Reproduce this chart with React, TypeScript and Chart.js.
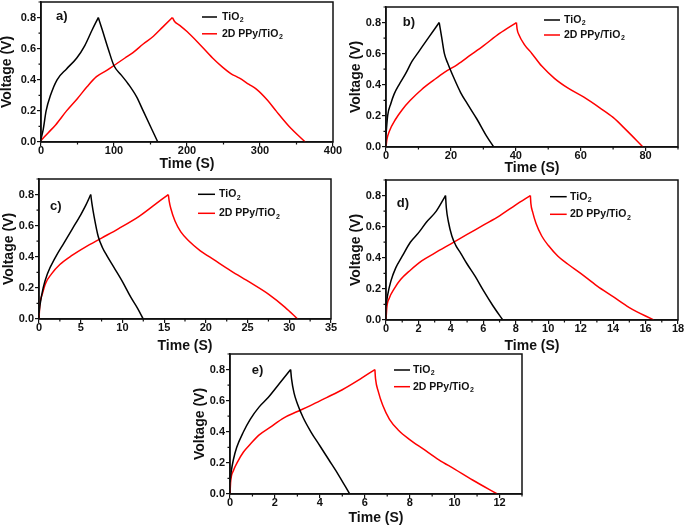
import React, { useEffect, useRef } from 'react';
import { Chart, registerables } from 'chart.js';
Chart.register(...registerables);

const FONT = "'Liberation Sans', Arial, Helvetica, sans-serif";

// ---------- data (time in s, voltage in V) ----------
// a)
const A_TIO2_T = [0, 3, 7, 13, 22, 35, 49, 60, 70, 78.5, 84, 92, 100, 110, 120, 131, 140, 150, 160];
const A_TIO2_V = [0.02, 0.08, 0.2, 0.3, 0.4, 0.47, 0.54, 0.62, 0.72, 0.8, 0.72, 0.6, 0.49, 0.43, 0.37, 0.29, 0.2, 0.1, 0];
const A_PPY_T = [0, 10, 20, 35, 50, 63, 76, 90, 101, 115, 126, 140, 154, 167, 180, 183, 190, 200, 215, 235, 249, 260, 272, 285, 295, 310, 322, 340, 362];
const A_PPY_V = [0.01, 0.06, 0.11, 0.2, 0.28, 0.355, 0.42, 0.46, 0.495, 0.54, 0.575, 0.63, 0.68, 0.74, 0.8, 0.775, 0.75, 0.71, 0.64, 0.54, 0.48, 0.44, 0.41, 0.37, 0.34, 0.27, 0.2, 0.1, 0];
// b)
const B_TIO2_T = [0, 0.5, 1.5, 2.5, 4, 6, 8, 10, 13, 16.4, 17.2, 18, 19, 21, 23, 25, 28, 31, 33.2];
const B_TIO2_V = [0.08, 0.2, 0.28, 0.34, 0.4, 0.47, 0.55, 0.61, 0.7, 0.8, 0.7, 0.6, 0.54, 0.44, 0.35, 0.28, 0.18, 0.07, 0];
const B_PPY_T = [0, 0.3, 1, 3, 5, 7.5, 11, 14.7, 18, 22, 26, 30, 35, 40.2, 40.4, 41, 42.6, 45, 48, 52, 56, 61, 66, 70, 74, 79.2];
const B_PPY_V = [0, 0.05, 0.1, 0.18, 0.24, 0.3, 0.37, 0.43, 0.48, 0.53, 0.59, 0.65, 0.73, 0.8, 0.76, 0.72, 0.66, 0.6, 0.52, 0.44, 0.38, 0.32, 0.25, 0.19, 0.11, 0];
// c)
const C_TIO2_T = [0, 0.15, 0.5, 1, 2, 3, 4, 5, 5.6, 6.2, 6.35, 6.6, 7.1, 7.6, 8.1, 9, 10, 11, 11.8, 12.5];
const C_TIO2_V = [0.04, 0.1, 0.2, 0.29, 0.4, 0.49, 0.58, 0.67, 0.73, 0.8, 0.74, 0.66, 0.53, 0.46, 0.41, 0.33, 0.24, 0.14, 0.07, 0];
const C_PPY_T = [0, 0.1, 0.4, 0.8, 1.5, 2.5, 4, 5.5, 7.5, 9.5, 12, 14, 15.5, 15.6, 15.8, 16.3, 17, 18, 19.3, 21, 23, 25.3, 27.5, 29.5, 31];
const C_PPY_V = [0, 0.09, 0.16, 0.23, 0.29, 0.35, 0.41, 0.46, 0.52, 0.58, 0.66, 0.74, 0.8, 0.76, 0.71, 0.63, 0.56, 0.5, 0.44, 0.38, 0.31, 0.235, 0.16, 0.075, 0];
// d)
const D_TIO2_T = [0, 0.1, 0.3, 0.6, 1, 1.5, 2, 2.5, 3.1, 3.67, 3.72, 3.85, 4.06, 4.3, 4.6, 5, 5.5, 6, 6.6, 7.2];
const D_TIO2_V = [0.09, 0.16, 0.25, 0.335, 0.41, 0.5, 0.56, 0.63, 0.7, 0.8, 0.72, 0.63, 0.54, 0.48, 0.43, 0.36, 0.28, 0.19, 0.09, 0];
const D_PPY_T = [0, 0.05, 0.2, 0.5, 0.9, 1.5, 2.2, 3, 4, 5, 6, 7, 8, 8.9, 8.93, 9.05, 9.25, 9.6, 10, 10.6, 11.2, 12, 13, 14, 15, 16.5];
const D_PPY_V = [0, 0.08, 0.14, 0.2, 0.26, 0.32, 0.38, 0.43, 0.49, 0.55, 0.61, 0.67, 0.74, 0.8, 0.75, 0.69, 0.62, 0.54, 0.48, 0.41, 0.36, 0.3, 0.22, 0.15, 0.08, 0];
// e)
const E_TIO2_T = [0, 0.05, 0.15, 0.3, 0.6, 0.9, 1.3, 1.7, 2.2, 2.7, 2.74, 2.85, 3, 3.26, 3.6, 4, 4.4, 4.8, 5.33];
const E_TIO2_V = [0.075, 0.14, 0.22, 0.3, 0.4, 0.48, 0.56, 0.62, 0.71, 0.8, 0.74, 0.65, 0.58, 0.49, 0.4, 0.31, 0.22, 0.13, 0];
const E_PPY_T = [0, 0.03, 0.15, 0.35, 0.6, 0.9, 1.3, 1.8, 2.4, 3, 3.6, 4.3, 5, 5.7, 6.45, 6.48, 6.6, 6.8, 7.1, 7.5, 8, 8.6, 9.3, 10, 10.8, 11.9];
const E_PPY_V = [0, 0.08, 0.15, 0.21, 0.27, 0.32, 0.38, 0.43, 0.49, 0.53, 0.57, 0.62, 0.67, 0.73, 0.8, 0.74, 0.66, 0.57, 0.48, 0.41, 0.35, 0.29, 0.22, 0.16, 0.09, 0];

// ---------- ticks / labels ----------
const A_X_TICKS = [0, 100, 200, 300, 400];
const A_X_MINOR = [50, 150, 250, 350];
const B_X_TICKS = [0, 20, 40, 60, 80];
const B_X_MINOR = [10, 30, 50, 70, 90];
const C_X_TICKS = [0, 5, 10, 15, 20, 25, 30, 35];
const C_X_MINOR = [2.5, 7.5, 12.5, 17.5, 22.5, 27.5, 32.5];
const D_X_TICKS = [0, 2, 4, 6, 8, 10, 12, 14, 16, 18];
const D_X_MINOR = [1, 3, 5, 7, 9, 11, 13, 15, 17];
const E_X_TICKS = [0, 2, 4, 6, 8, 10, 12];
const E_X_MINOR = [1, 3, 5, 7, 9, 11, 13];
const Y_TICKS = [0, 0.2, 0.4, 0.6, 0.8];
const Y_MINOR = [0.1, 0.3, 0.5, 0.7, 0.9];
const X_MAX = [400, 90, 35, 18, 13];
const Y_MAX = 0.9;

const SERIES_MAIN = ['TiO', '2D PPy/TiO'];
const SERIES_SUB = ['2', '2'];
const SERIES_COLORS = ['#000000', '#ff0000'];
const PANEL_LABELS = ['a)', 'b)', 'c)', 'd)', 'e)'];
const X_TITLE = 'Time (S)';
const Y_TITLE = 'Voltage (V)';

// ---------- layout (page pixels) ----------
const PW = 292; // plot width
const PH = 140; // plot height
const YW = 45; // y-axis box width
const XH = 40; // x-axis box height
const PT = 10; // top pad
const PR = 12; // right pad

const PANELS = [
  { L: 41, B: 142, xMax: X_MAX[0], xTicks: A_X_TICKS, xMinor: A_X_MINOR, s: [[A_TIO2_T, A_TIO2_V], [A_PPY_T, A_PPY_V]],
    leg: { x0: 161, x1: 176, tx: 181, y: [15, 31.8] }, lab: { x: 15, y: 14.7 }, yTitleOff: 34, xTitleOff: 22.5 },
  { L: 386, B: 147, xMax: X_MAX[1], xTicks: B_X_TICKS, xMinor: B_X_MINOR, s: [[B_TIO2_T, B_TIO2_V], [B_PPY_T, B_PPY_V]],
    leg: { x0: 158, x1: 174, tx: 178, y: [13, 28] }, lab: { x: 16.7, y: 15.7 }, yTitleOff: 30, xTitleOff: 21 },
  { L: 39, B: 319, xMax: X_MAX[2], xTicks: C_X_TICKS, xMinor: C_X_MINOR, s: [[C_TIO2_T, C_TIO2_V], [C_PPY_T, C_PPY_V]],
    leg: { x0: 159, x1: 176, tx: 180, y: [15.3, 34.3] }, lab: { x: 11, y: 27.7 }, yTitleOff: 30, xTitleOff: 27 },
  { L: 386, B: 320, xMax: X_MAX[3], xTicks: D_X_TICKS, xMinor: D_X_MINOR, s: [[D_TIO2_T, D_TIO2_V], [D_PPY_T, D_PPY_V]],
    leg: { x0: 164, x1: 180.7, tx: 184, y: [16.7, 34.3] }, lab: { x: 10.7, y: 23.3 }, yTitleOff: 30, xTitleOff: 26.5 },
  { L: 230, B: 494, xMax: X_MAX[4], xTicks: E_X_TICKS, xMinor: E_X_MINOR, s: [[E_TIO2_T, E_TIO2_V], [E_PPY_T, E_PPY_V]],
    leg: { x0: 164, x1: 180, tx: 183, y: [16, 32.7] }, lab: { x: 21.7, y: 16 }, yTitleOff: 29.5, xTitleOff: 24 },
];

function splitAtPeak(t: number[], v: number[]) {
  let k = 0;
  for (let i = 1; i < v.length; i++) if (v[i] > v[k]) k = i;
  const pts = t.map((x, i) => ({ x, y: v[i] }));
  return [pts.slice(0, k + 1), pts.slice(k)];
}

const decorPlugin = {
  id: 'decor',
  afterDraw(chart: any, _args: any, o: any) {
    const { ctx, chartArea: a, scales } = chart;
    const xs = scales.x;
    const ys = scales.y;
    ctx.save();
    ctx.strokeStyle = '#111';
    ctx.lineWidth = 1.2;
    ctx.beginPath();
    o.xMinor.forEach((v: number) => {
      const p = xs.getPixelForValue(v);
      ctx.moveTo(p, a.bottom);
      ctx.lineTo(p, a.bottom + 2.5);
    });
    o.yMinor.forEach((v: number) => {
      const p = ys.getPixelForValue(v);
      ctx.moveTo(a.left, p);
      ctx.lineTo(a.left - 2.5, p);
    });
    ctx.stroke();
    ctx.lineWidth = 1.5;
    ctx.strokeRect(a.left, a.top, a.right - a.left, a.bottom - a.top);

    // legend
    const lg = o.leg;
    for (let i = 0; i < SERIES_MAIN.length; i++) {
      const y = a.top + lg.y[i];
      ctx.strokeStyle = SERIES_COLORS[i];
      ctx.lineWidth = 1.5;
      ctx.beginPath();
      ctx.moveTo(a.left + lg.x0, y);
      ctx.lineTo(a.left + lg.x1, y);
      ctx.stroke();
      ctx.fillStyle = '#111';
      ctx.textBaseline = 'middle';
      ctx.textAlign = 'left';
      ctx.font = `bold 10.5px ${FONT}`;
      const tx = a.left + lg.tx;
      ctx.fillText(SERIES_MAIN[i], tx, y);
      const w = ctx.measureText(SERIES_MAIN[i]).width;
      ctx.font = `bold 7px ${FONT}`;
      ctx.fillText(SERIES_SUB[i], tx + w + 0.5, y + 3.5);
    }
    // panel label
    ctx.fillStyle = '#111';
    ctx.font = `bold 13px ${FONT}`;
    ctx.textBaseline = 'middle';
    ctx.textAlign = 'left';
    ctx.fillText(o.label, a.left + o.lab.x, a.top + o.lab.y);
    ctx.restore();
  },
};

function Panel({ idx }: { idx: number }) {
  const ref = useRef<HTMLCanvasElement>(null);
  const p = PANELS[idx];
  const cw = PW + YW + PR;
  const ch = PH + PT + XH;
  const left = p.L - YW;
  const top = p.B - PH - PT;

  useEffect(() => {
    const datasets: any[] = [];
    p.s.forEach(([t, v], si) => {
      splitAtPeak(t, v).forEach((pts) => {
        datasets.push({
          data: pts,
          borderColor: SERIES_COLORS[si],
          borderWidth: 1.5,
          pointRadius: 0,
          fill: false,
          cubicInterpolationMode: 'monotone',
        });
      });
    });
    const tickFont = { family: FONT, weight: 'bold' as const, size: 11 };
    const titleFont = { family: FONT, weight: 'bold' as const, size: 14 };
    const titleLH = 14 * 1.2;
    const chart = new Chart(ref.current as HTMLCanvasElement, {
      type: 'line',
      data: { datasets },
      plugins: [decorPlugin],
      options: {
        animation: false,
        responsive: false,
        events: [],
        layout: { padding: { top: PT, right: PR, left: 0, bottom: 0 } },
        plugins: {
          legend: { display: false },
          tooltip: { enabled: false },
          decor: { xMinor: p.xMinor, yMinor: Y_MINOR, leg: p.leg, lab: p.lab, label: PANEL_LABELS[idx] },
        } as any,
        scales: {
          x: {
            type: 'linear',
            min: 0,
            max: p.xMax,
            afterBuildTicks: (s: any) => {
              s.ticks = p.xTicks.map((v) => ({ value: v }));
            },
            afterFit: (s: any) => {
              s.height = XH;
            },
            grid: { drawOnChartArea: false, drawTicks: true, tickLength: 4, color: '#111', lineWidth: 1.2 },
            border: { display: true, color: '#111', width: 1.5 },
            ticks: { color: '#111', font: tickFont, padding: -2, maxRotation: 0, autoSkip: false },
            title: {
              display: true,
              text: X_TITLE,
              color: '#111',
              font: titleFont,
              padding: { top: 0, bottom: XH - titleLH / 2 - p.xTitleOff },
            },
          },
          y: {
            type: 'linear',
            min: 0,
            max: Y_MAX,
            afterBuildTicks: (s: any) => {
              s.ticks = Y_TICKS.map((v) => ({ value: v }));
            },
            afterFit: (s: any) => {
              s.width = YW;
            },
            grid: { drawOnChartArea: false, drawTicks: true, tickLength: 4, color: '#111', lineWidth: 1.2 },
            border: { display: true, color: '#111', width: 1.5 },
            ticks: {
              color: '#111',
              font: tickFont,
              padding: 1,
              autoSkip: false,
              callback: (v: any) => Number(v).toFixed(1),
            },
            title: {
              display: true,
              text: Y_TITLE,
              color: '#111',
              font: titleFont,
              padding: { top: YW - p.yTitleOff - titleLH / 2, bottom: 0 },
            },
          },
        },
      } as any,
    });
    return () => chart.destroy();
  }, []);

  return (
    <canvas
      ref={ref}
      width={cw}
      height={ch}
      style={{ position: 'absolute', left, top, width: cw, height: ch }}
    />
  );
}

export default function App() {
  return (
    <div
      style={{
        position: 'absolute',
        left: 0,
        top: 0,
        width: 685,
        height: 528,
        background: '#ffffff',
        overflow: 'hidden',
      }}
    >
      {PANELS.map((_, i) => (
        <Panel key={i} idx={i} />
      ))}
    </div>
  );
}
